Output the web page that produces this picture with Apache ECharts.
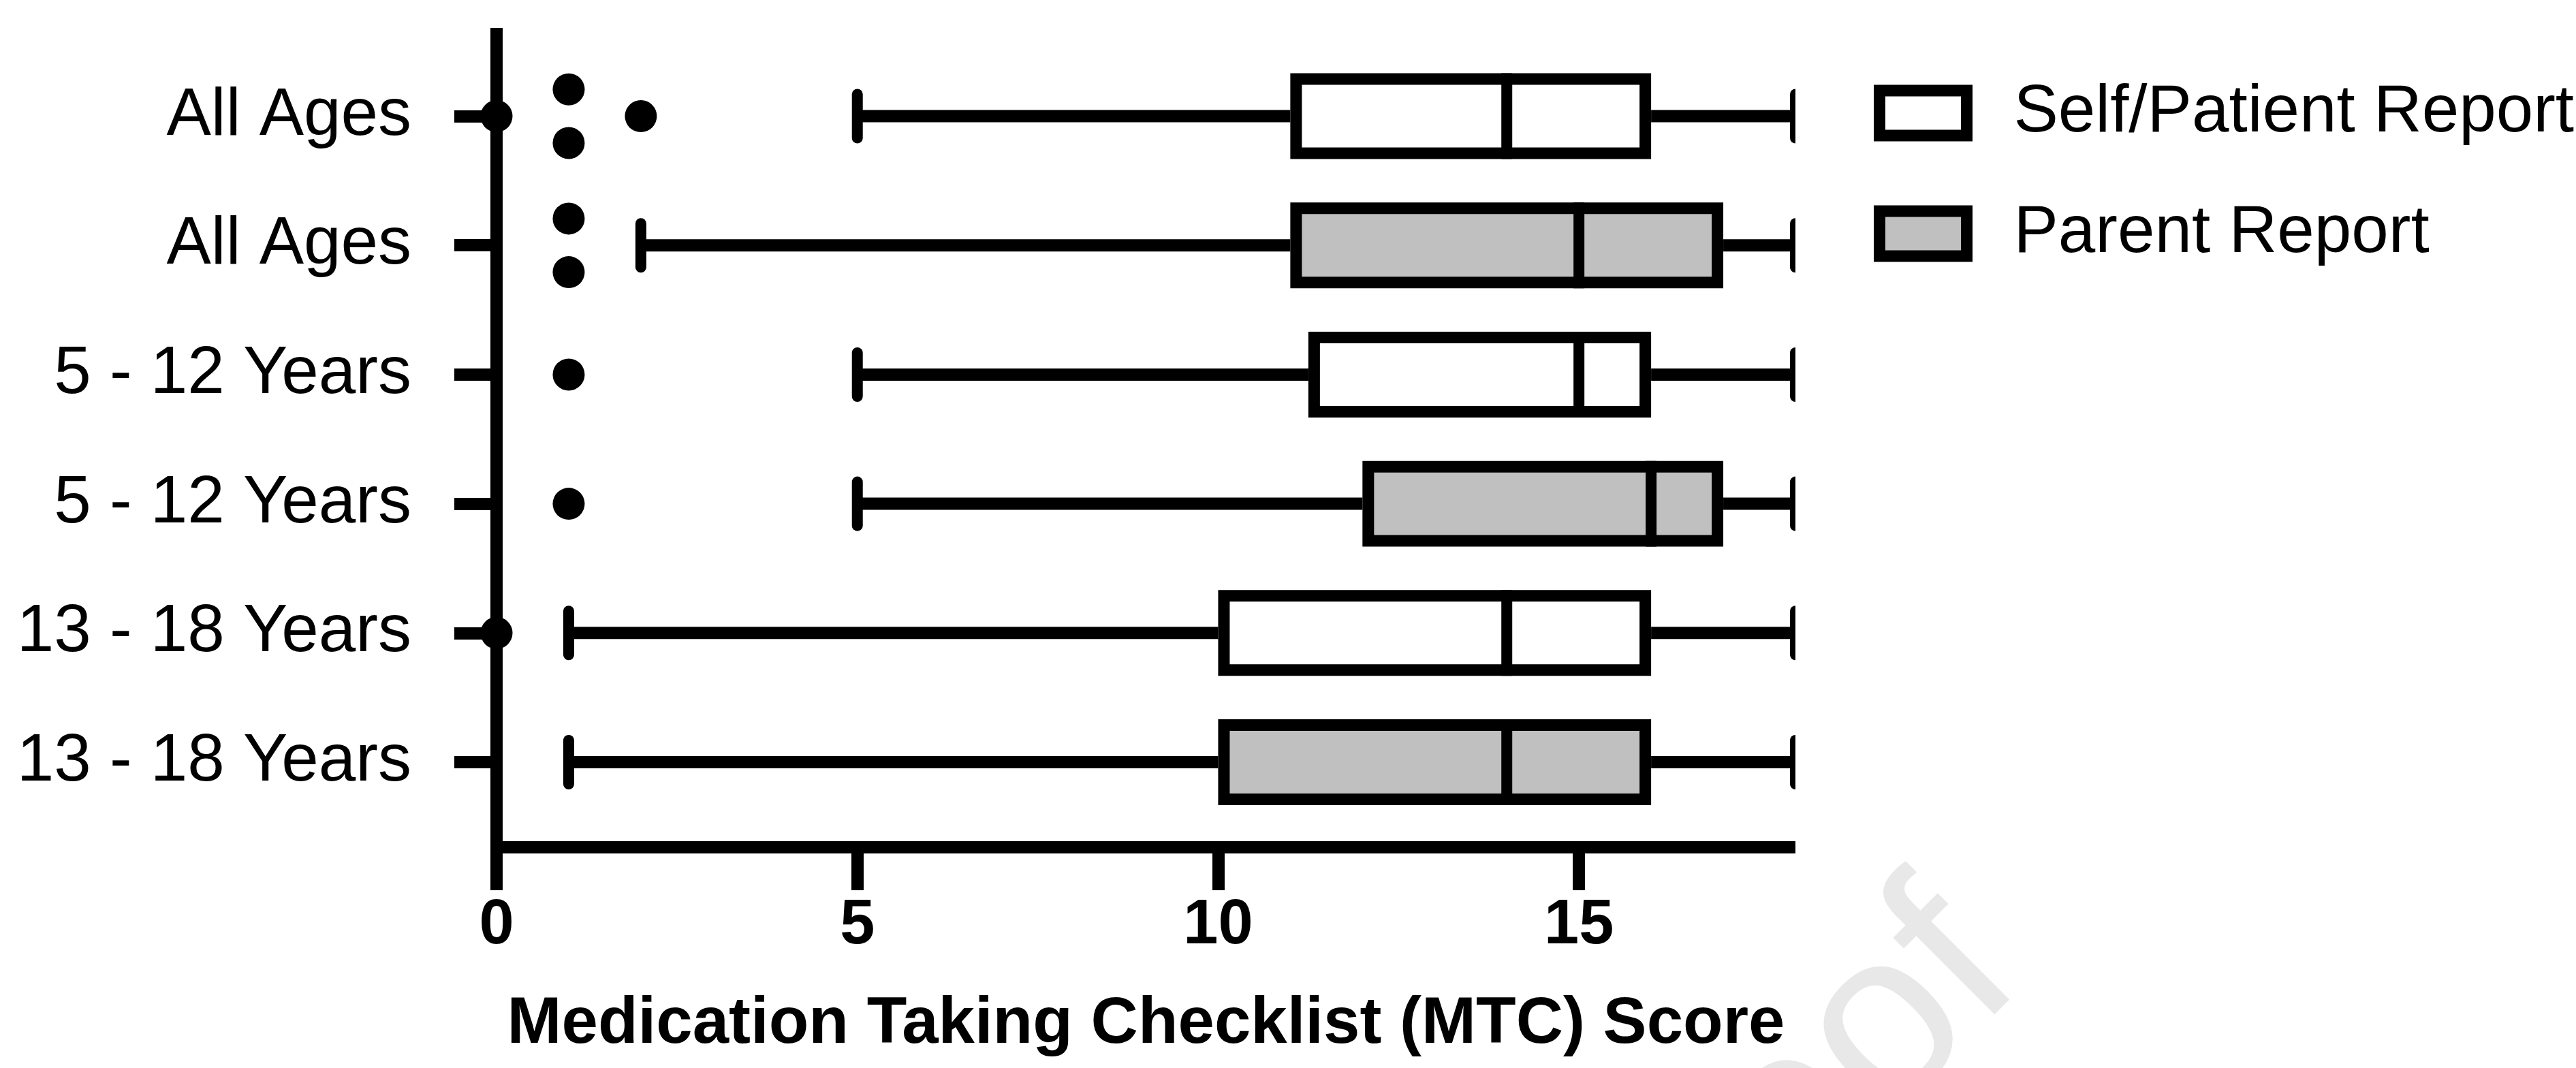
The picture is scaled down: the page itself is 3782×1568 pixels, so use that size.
<!DOCTYPE html>
<html>
<head>
<meta charset="utf-8">
<script src="https://cdn.jsdelivr.net/npm/echarts@6/dist/echarts.min.js"></script>
<style>
html, body { margin: 0; padding: 0; background: #fff; }
#chart { width: 3782px; height: 1568px; }
</style>
</head>
<body>
<div id="chart"></div>
<script>
// rows, top to bottom
const rowLabels = ['All Ages', 'All Ages', '5 - 12 Years', '5 - 12 Years', '13 - 18 Years', '13 - 18 Years'];
const rowReporter = ['Self/Patient Report', 'Parent Report', 'Self/Patient Report', 'Parent Report', 'Self/Patient Report', 'Parent Report'];

// MTC score summaries per row
const whiskerLow = [5, 2, 5, 5, 1, 1];
const quartile1 = [11, 11, 11.25, 12, 10, 10];
const medians = [14, 15, 15, 16, 14, 14];
const quartile3 = [16, 17, 16, 17, 16, 16];
const whiskerHigh = [18, 18, 18, 18, 18, 18];
const outliers = [[0, 1, 1, 2], [1, 1], [1], [1], [0], []];

const xTicks = [0, 5, 10, 15];
const reporters = ['Self/Patient Report', 'Parent Report'];
const fills = ['#ffffff', '#c0c0c0'];

const FONT = '"Liberation Sans", Arial, Helvetica, sans-serif';
const BOX_HALF = 0.332;  // half box height (row units)
const CAP_HALF = 0.169;  // half whisker cap height (row units)
const JITTER = 0.415;    // spacing for tied outliers (row units)

const chart = echarts.init(document.getElementById('chart'), null, { renderer: 'canvas' });

function renderBox(params, api) {
  const row = api.value(0);
  const lo = api.value(1), a = api.value(2), m = api.value(3), b = api.value(4), hi = api.value(5);
  const rowPx = api.size([0, 1])[1];
  const yc = api.coord([0, row])[1];
  const x = v => api.coord([v, row])[0];
  const h = rowPx * BOX_HALF;
  const cap = rowPx * CAP_HALF;
  const lw = 17;
  const whisker = { stroke: '#000', lineWidth: 18, lineCap: 'butt' };
  const capStyle = { stroke: '#000', lineWidth: 16, lineCap: 'round' };
  return {
    type: 'group',
    children: [
      { type: 'line', shape: { x1: x(lo), y1: yc, x2: x(a), y2: yc }, style: whisker },
      { type: 'line', shape: { x1: x(b), y1: yc, x2: x(hi), y2: yc }, style: whisker },
      { type: 'line', shape: { x1: x(lo), y1: yc - cap, x2: x(lo), y2: yc + cap }, style: capStyle },
      { type: 'line', shape: { x1: x(hi), y1: yc - cap, x2: x(hi), y2: yc + cap }, style: capStyle },
      {
        type: 'rect',
        shape: { x: x(a) + lw / 2, y: yc - h + lw / 2, width: x(b) - x(a) - lw, height: 2 * h - lw },
        style: { fill: api.visual('color'), stroke: '#000', lineWidth: lw }
      },
      { type: 'line', shape: { x1: x(m), y1: yc - h, x2: x(m), y2: yc + h }, style: { stroke: '#000', lineWidth: 16 } }
    ]
  };
}

const boxSeries = reporters.map((name, si) => {
  const data = [];
  rowReporter.forEach((r, i) => {
    if (r === name) data.push([i, whiskerLow[i], quartile1[i], medians[i], quartile3[i], whiskerHigh[i]]);
  });
  return {
    name: name,
    type: 'custom',
    clip: true,
    itemStyle: { color: fills[si] },
    encode: { x: [1, 2, 3, 4, 5], y: 0 },
    renderItem: renderBox,
    data: data
  };
});

// tied outliers are spread vertically around the row centre
const outlierPoints = [];
outliers.forEach((vals, row) => {
  const counts = {};
  vals.forEach(v => { counts[v] = (counts[v] || 0) + 1; });
  const seen = {};
  vals.forEach(v => {
    const k = seen[v] || 0;
    seen[v] = k + 1;
    outlierPoints.push([v, row + (k - (counts[v] - 1) / 2) * JITTER]);
  });
});

const rowIdx = rowLabels.map((_, i) => i);

chart.setOption({
  animation: false,
  backgroundColor: '#fff',
  grid: { left: 729, right: 1146, top: 41, bottom: 324, containLabel: false, outerBoundsMode: 'none' },
  legend: {
    orient: 'vertical',
    left: 2751,
    top: 117,
    padding: 0,
    itemGap: 79,
    itemWidth: 128,
    itemHeight: 66,
    selectedMode: false,
    textStyle: { fontSize: 98, fontFamily: FONT, color: '#000', padding: [0, 0, 0, 64] },
    data: [
      { name: reporters[0], icon: 'rect', itemStyle: { color: fills[0], borderColor: '#000', borderWidth: 17 } },
      { name: reporters[1], icon: 'rect', itemStyle: { color: fills[1], borderColor: '#000', borderWidth: 17 } }
    ]
  },
  xAxis: {
    type: 'value',
    min: 0,
    max: 18,
    name: 'Medication Taking Checklist (MTC) Score',
    nameLocation: 'middle',
    nameGap: 213,
    nameTextStyle: { fontSize: 96, fontWeight: 'bold', fontFamily: FONT, color: '#000' },
    axisLine: { show: true, onZero: false, lineStyle: { color: '#000', width: 18, cap: 'butt' } },
    axisTick: { show: true, customValues: xTicks, length: 63, lineStyle: { color: '#000', width: 18, cap: 'butt' } },
    axisLabel: {
      customValues: xTicks,
      margin: 70,
      fontSize: 92,
      fontWeight: 'bold',
      fontFamily: FONT,
      color: '#000'
    },
    splitLine: { show: false }
  },
  yAxis: {
    type: 'value',
    inverse: true,
    min: -0.683,
    max: 5.659,
    axisLine: { show: true, onZero: false, lineStyle: { color: '#000', width: 18, cap: 'butt' } },
    axisTick: { show: true, customValues: rowIdx, length: 62, lineStyle: { color: '#000', width: 18, cap: 'butt' } },
    axisLabel: {
      customValues: rowIdx,
      formatter: v => rowLabels[Math.round(v)],
      margin: 125,
      fontSize: 98,
      fontFamily: FONT,
      color: '#000'
    },
    splitLine: { show: false }
  },
  graphic: [{
    type: 'text',
    x: 2907,
    y: 1374,
    rotation: Math.PI / 4,
    silent: true,
    z: -10,
    style: { text: 'Journal Pre-proof', font: '350px "Liberation Sans"', fill: '#e8e8e8', align: 'right', verticalAlign: 'middle' }
  }],
  series: boxSeries.concat([{
    name: 'outliers',
    type: 'scatter',
    clip: false,
    z: 5,
    symbol: 'circle',
    symbolSize: 47,
    itemStyle: { color: '#000', opacity: 1 },
    data: outlierPoints
  }])
});

window.addEventListener('resize', () => chart.resize());
</script>
</body>
</html>
